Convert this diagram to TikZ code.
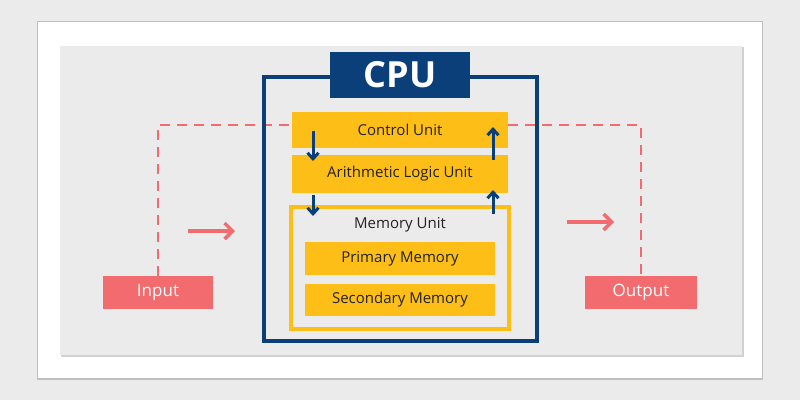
\documentclass[tikz,border=0pt]{standalone}
\usepackage{fontspec}
\setmainfont{Open Sans}
\usetikzlibrary{arrows.meta}
\definecolor{bgg}{HTML}{EBEBEB}
\definecolor{cpub}{HTML}{0B3F7A}
\definecolor{yel}{HTML}{FDBE17}
\definecolor{redc}{HTML}{F26B6E}
\definecolor{txt}{HTML}{222222}
\begin{document}
\begin{tikzpicture}[x=1pt,y=-1pt,
 ybox/.style={fill=yel,draw=none,inner sep=0,text=txt,font=\fontsize{15}{17}\selectfont},
 rbox/.style={fill=redc,draw=none,inner sep=0,text=white,font=\fontsize{17}{19}\selectfont},
 barr/.style={draw=cpub,line width=3pt,-{Straight Barb[length=6pt,width=11pt]}},
 rarr/.style={draw=redc,line width=3.5pt,-{Straight Barb[length=8pt,width=16pt]}}]
\fill[bgg] (0,0) rectangle (800,400);
\useasboundingbox (0,0) rectangle (800,400);
\fill[black!25] (37,21) rectangle (763,380);
\fill[white] (38,22) rectangle (762,378);
\fill[black!18] (61,47) rectangle (744,357);
\fill[bgg] (60,46) rectangle (742,355);
\node[rbox,minimum width=110,minimum height=33] (in) at (158,292.5) {Input};
\node[rbox,minimum width=112,minimum height=33] (out) at (641,292.5) {Output};
\draw[redc,line width=2.5pt,dash pattern=on 10pt off 7pt] (in.north) |- (292,125) (508,125) -| (out.north);
\draw[cpub,line width=3.5pt] (264,77) rectangle (537,341);
\node[fill=cpub,text=white,minimum width=140,minimum height=46,inner sep=0,font=\bfseries\fontsize{36}{38}\selectfont] (cpu) at (400,75) {CPU};
\node[ybox,minimum width=216,minimum height=36] (cu) at (400,130) {Control Unit};
\node[ybox,minimum width=216,minimum height=38] (alu) at (400,174) {Arithmetic Logic Unit};
\draw[yel,line width=3.5pt] (291,207) rectangle (509,329);
\node[text=txt,font=\fontsize{15}{17}\selectfont] (mu) at (400,225) {Memory Unit};
\node[ybox,minimum width=190,minimum height=33] (pm) at (400,258.5) {Primary Memory};
\node[ybox,minimum width=190,minimum height=32] (sm) at (400,300) {Secondary Memory};
\coordinate (a1) at (313,131); \coordinate (a2) at (313,161);
\coordinate (b1) at (313,195); \coordinate (b2) at (313,216);
\coordinate (c1) at (493,160); \coordinate (c2) at (493,127);
\coordinate (d1) at (493,214); \coordinate (d2) at (493,190);
\draw[barr] (a1) -- (a2); \draw[barr] (b1) -- (b2);
\draw[barr] (c1) -- (c2); \draw[barr] (d1) -- (d2);
\coordinate (r1) at (188,231); \coordinate (r2) at (235,231);
\coordinate (s1) at (567,222); \coordinate (s2) at (614,222);
\draw[rarr] (r1) -- (r2); \draw[rarr] (s1) -- (s2);
\end{tikzpicture}
\end{document}
